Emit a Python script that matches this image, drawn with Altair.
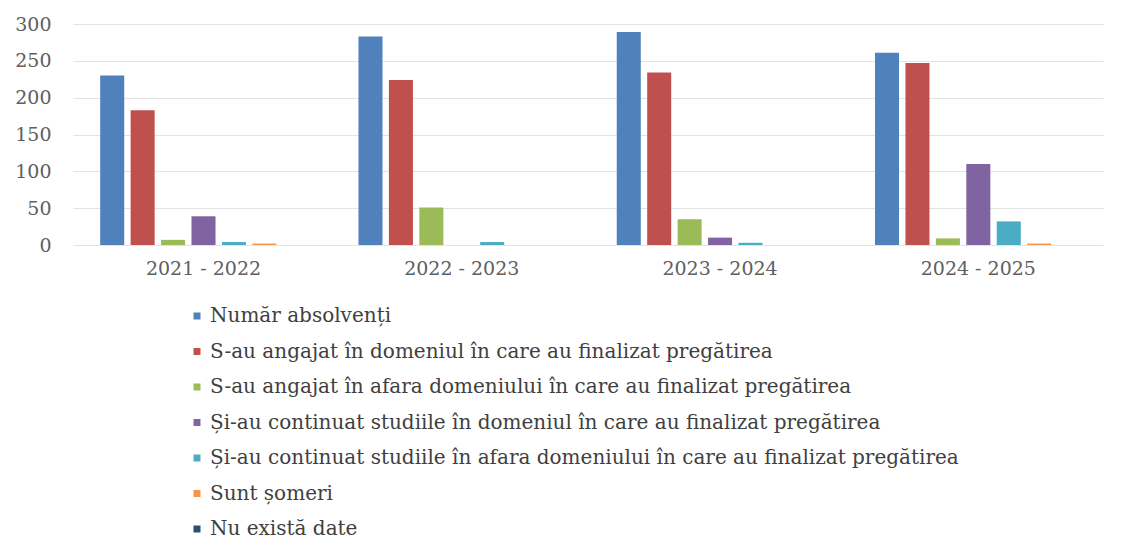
import altair as alt
import pandas as pd

years = ["2021 - 2022", "2022 - 2023", "2023 - 2024", "2024 - 2025"]
series = [
    "Număr absolvenți",
    "S-au angajat în domeniul în care au finalizat pregătirea",
    "S-au angajat în afara domeniului în care au finalizat pregătirea",
    "Și-au continuat studiile în domeniul în care au finalizat pregătirea",
    "Și-au continuat studiile în afara domeniului în care au finalizat pregătirea",
    "Sunt șomeri",
    "Nu există date",
]
colors = ["#4f81bd", "#c0504d", "#9bbb59", "#8064a2", "#4bacc6", "#f79646", "#2c4d75"]

absolventi = [230, 283, 289, 261]
angajat_dom = [183, 224, 234, 247]
angajat_afara = [7, 51, 35, 9]
studii_dom = [39, 0, 10, 110]
studii_afara = [4, 4, 3, 32]
someri = [2, 0, 0, 2]
nu_date = [0, 0, 0, 0]

values = [absolventi, angajat_dom, angajat_afara, studii_dom, studii_afara, someri, nu_date]

rows = []
for s, vals in zip(series, values):
    for y, v in zip(years, vals):
        rows.append({"An": y, "Serie": s, "Valoare": v})
df = pd.DataFrame(rows)

chart = alt.Chart(df).mark_bar().encode(
    x=alt.X("An:N", sort=years, title=None,
            scale=alt.Scale(paddingInner=0.2, paddingOuter=0.094, align=0.56),
            axis=alt.Axis(labelAngle=0, domain=False, ticks=False, labelPadding=14)),
    xOffset=alt.XOffset("Serie:N", sort=series,
                        scale=alt.Scale(paddingInner=0.21, paddingOuter=0)),
    y=alt.Y("Valoare:Q", title=None,
            scale=alt.Scale(domain=[0, 300], nice=False),
            axis=alt.Axis(values=[0, 50, 100, 150, 200, 250, 300], domain=False, ticks=False,
                          tickSize=0, labelPadding=22, gridColor="#e3e3e3")),
    color=alt.Color("Serie:N", sort=series,
                    scale=alt.Scale(domain=series, range=colors),
                    legend=alt.Legend(title=None, orient="none", legendX=114, legendY=282,
                                      direction="vertical", symbolType="square", symbolSize=49,
                                      symbolStrokeWidth=0, rowPadding=15.5, labelLimit=1000,
                                      labelOffset=3, labelFont="DejaVu Serif",
                                      labelFontSize=20, labelColor="#404040")),
).properties(
    width=1030, height=221,
    autosize=alt.AutoSizeParams(type="none"),
    padding={"left": 65, "top": 16, "right": 15, "bottom": 296},
).configure_view(stroke=None).configure_axis(
    labelFont="DejaVu Serif", labelFontSize=19, labelColor="#606060", labelFontWeight="normal"
)

chart.save("out.html", embed_options={"renderer": "svg", "actions": False})
